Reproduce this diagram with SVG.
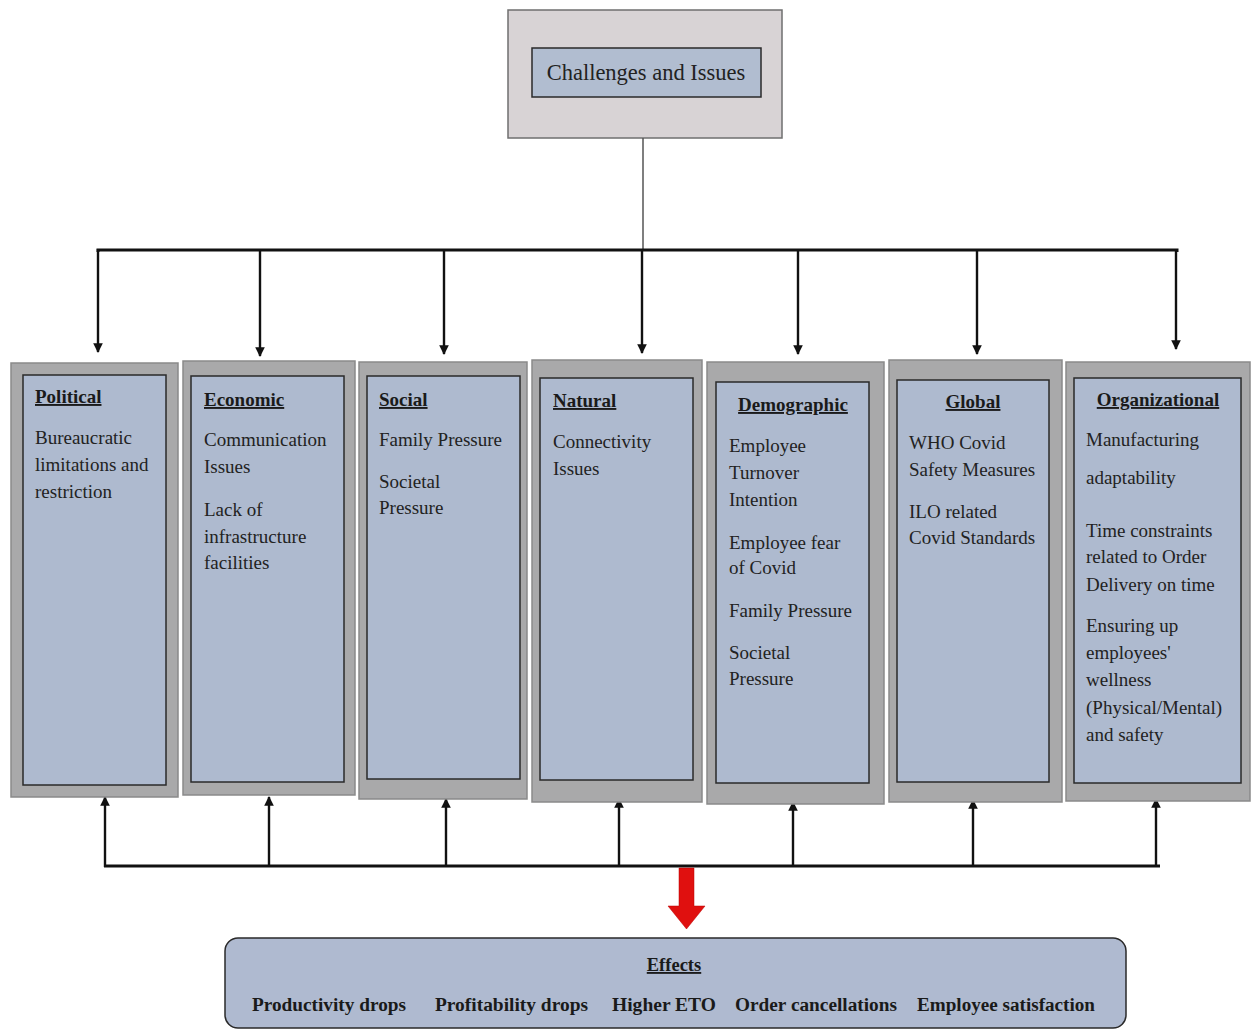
<svg xmlns="http://www.w3.org/2000/svg" width="1252" height="1030" viewBox="0 0 1252 1030">
<defs>
<marker id="ah" viewBox="0 0 10 10" refX="9" refY="5" markerWidth="4.4" markerHeight="4" orient="auto" markerUnits="strokeWidth">
<path d="M0,0 L10,5 L0,10 z" fill="#111"/>
</marker>
<style>
text{font-family:'Liberation Serif','DejaVu Serif',serif}
.outer{fill:#a9a9aa;stroke:#8a8a8a;stroke-width:1.5}
.inner{fill:#aebacf;stroke:#2a2a2a;stroke-width:1.5}
.t{font-size:19px;fill:#222}
.h{font-size:19px;font-weight:bold;fill:#1a1a1a;text-decoration:underline}
.c{text-anchor:middle}
.e{font-size:18.5px;font-weight:bold;fill:#1a1a1a}
.bus{stroke:#111;stroke-width:3;fill:none}
.ar{stroke:#111;stroke-width:2.4;fill:none;marker-end:url(#ah)}
</style>
</defs>
<rect width="1252" height="1030" fill="#fff"/>

<g id="top">
<rect x="508" y="10" width="274" height="128" fill="#d8d3d5" stroke="#6f6f6f" stroke-width="1.5"/>
<rect x="532" y="48" width="229" height="49" fill="#b1bdd0" stroke="#2a2a2a" stroke-width="1.5"/>
<text x="646" y="80" class="t c" style="font-size:22.5px">Challenges and Issues</text>
</g>

<g id="connectors">
<line x1="643" y1="138" x2="643" y2="250" stroke="#555" stroke-width="1.5"/>
<polyline class="bus" points="98,252 98,250 1177,250 1177,252"/>
<line class="ar" x1="98" y1="249" x2="98" y2="352"/>
<line class="ar" x1="260" y1="251" x2="260" y2="356"/>
<line class="ar" x1="444" y1="251" x2="444" y2="354"/>
<line class="ar" x1="642" y1="251" x2="642" y2="353"/>
<line class="ar" x1="798" y1="251" x2="798" y2="354"/>
<line class="ar" x1="977" y1="251" x2="977" y2="354"/>
<line class="ar" x1="1176" y1="249" x2="1176" y2="349"/>
<line class="bus" x1="104" y1="866" x2="1160" y2="866"/>
<line class="ar" x1="105" y1="867" x2="105" y2="797"/>
<line class="ar" x1="269" y1="866" x2="269" y2="797"/>
<line class="ar" x1="446" y1="866" x2="446" y2="799"/>
<line class="ar" x1="619" y1="866" x2="619" y2="799"/>
<line class="ar" x1="793" y1="866" x2="793" y2="802"/>
<line class="ar" x1="973" y1="866" x2="973" y2="800"/>
<line class="ar" x1="1156" y1="867" x2="1156" y2="799"/>
<polygon points="679,868 694,868 694,906 705,906 686.5,929 668,906 679,906" fill="#e0100f" stroke="#b00" stroke-width="0.5"/>
</g>

<g id="political">
<rect class="outer" x="11" y="363" width="167" height="434"/>
<rect class="inner" x="23" y="375" width="143" height="410"/>
<text x="35" y="403" class="h">Political</text>
<text x="35" y="444" class="t">Bureaucratic</text>
<text x="35" y="471" class="t">limitations and</text>
<text x="35" y="498" class="t">restriction</text>
</g>

<g id="economic">
<rect class="outer" x="183" y="361" width="172" height="434"/>
<rect class="inner" x="191" y="376" width="153" height="406"/>
<text x="204" y="406" class="h">Economic</text>
<text x="204" y="446" class="t">Communication</text>
<text x="204" y="473" class="t">Issues</text>
<text x="204" y="516" class="t">Lack of</text>
<text x="204" y="543" class="t">infrastructure</text>
<text x="204" y="569" class="t">facilities</text>
</g>

<g id="social">
<rect class="outer" x="359" y="362" width="168" height="437"/>
<rect class="inner" x="367" y="376" width="153" height="403"/>
<text x="379" y="406" class="h">Social</text>
<text x="379" y="446" class="t">Family Pressure</text>
<text x="379" y="488" class="t">Societal</text>
<text x="379" y="514" class="t">Pressure</text>
</g>

<g id="natural">
<rect class="outer" x="532" y="360" width="170" height="442"/>
<rect class="inner" x="540" y="378" width="153" height="402"/>
<text x="553" y="407" class="h">Natural</text>
<text x="553" y="448" class="t">Connectivity</text>
<text x="553" y="475" class="t">Issues</text>
</g>

<g id="demographic">
<rect class="outer" x="707" y="362" width="177" height="442"/>
<rect class="inner" x="716" y="382" width="153" height="401"/>
<text x="793" y="411" class="h c">Demographic</text>
<text x="729" y="452" class="t">Employee</text>
<text x="729" y="479" class="t">Turnover</text>
<text x="729" y="506" class="t">Intention</text>
<text x="729" y="549" class="t">Employee fear</text>
<text x="729" y="574" class="t">of Covid</text>
<text x="729" y="617" class="t">Family Pressure</text>
<text x="729" y="659" class="t">Societal</text>
<text x="729" y="685" class="t">Pressure</text>
</g>

<g id="global">
<rect class="outer" x="889" y="360" width="173" height="442"/>
<rect class="inner" x="897" y="380" width="152" height="402"/>
<text x="973" y="408" class="h c">Global</text>
<text x="909" y="449" class="t">WHO Covid</text>
<text x="909" y="476" class="t">Safety Measures</text>
<text x="909" y="518" class="t">ILO related</text>
<text x="909" y="544" class="t">Covid Standards</text>
</g>

<g id="organizational">
<rect class="outer" x="1066" y="362" width="184" height="439"/>
<rect class="inner" x="1074" y="378" width="167" height="405"/>
<text x="1158" y="406" class="h c">Organizational</text>
<text x="1086" y="446" class="t">Manufacturing</text>
<text x="1086" y="484" class="t">adaptability</text>
<text x="1086" y="537" class="t">Time constraints</text>
<text x="1086" y="563" class="t">related to Order</text>
<text x="1086" y="591" class="t">Delivery on time</text>
<text x="1086" y="632" class="t">Ensuring up</text>
<text x="1086" y="659" class="t">employees'</text>
<text x="1086" y="686" class="t">wellness</text>
<text x="1086" y="714" class="t">(Physical/Mental)</text>
<text x="1086" y="741" class="t">and safety</text>
</g>

<g id="effects">
<rect x="225" y="938" width="901" height="90" rx="13" fill="#afbad0" stroke="#2a2a2a" stroke-width="1.5"/>
<text x="674" y="971" class="h c" style="font-size:18.5px">Effects</text>
<text x="252" y="1011" class="e" textLength="154" lengthAdjust="spacingAndGlyphs">Productivity drops</text>
<text x="435" y="1011" class="e" textLength="153" lengthAdjust="spacingAndGlyphs">Profitability drops</text>
<text x="612" y="1011" class="e" textLength="104" lengthAdjust="spacingAndGlyphs">Higher ETO</text>
<text x="735" y="1011" class="e" textLength="162" lengthAdjust="spacingAndGlyphs">Order cancellations</text>
<text x="917" y="1011" class="e" textLength="178" lengthAdjust="spacingAndGlyphs">Employee satisfaction</text>
</g>
</svg>
